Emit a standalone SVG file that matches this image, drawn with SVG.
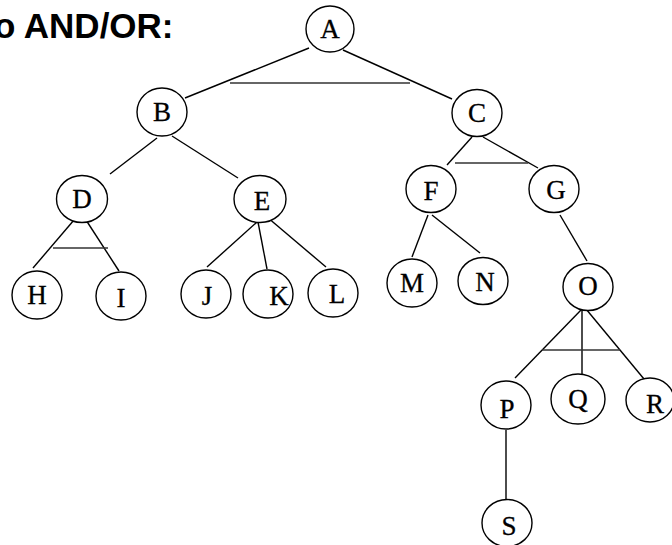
<svg xmlns="http://www.w3.org/2000/svg" width="672" height="545" viewBox="0 0 672 545">
<style>
.n ellipse{fill:#fff;stroke:#000;stroke-width:1.4}
.n text{font-family:"Liberation Serif","Times New Roman",serif;font-size:27px;text-anchor:middle;fill:#000;stroke:#000;stroke-width:0.3}
.c line{stroke:#000;stroke-width:1.4}
.c line.and{stroke:#333;stroke-width:1.5}
.title{font-family:"Liberation Sans",Arial,sans-serif;font-weight:bold;font-size:35px;fill:#000}
</style>
<rect width="672" height="545" fill="#fff"/>
<text class="title" x="-6" y="38">o AND/OR:</text>
<g class="c" id="connectors">
<line x1="309" y1="48" x2="185" y2="98"/>
<line x1="343" y1="50" x2="452" y2="99"/>
<line class="and" x1="230" y1="83" x2="410" y2="83"/>
<line x1="157" y1="138" x2="110" y2="174"/>
<line x1="172" y1="136" x2="238" y2="178"/>
<line x1="74" y1="220" x2="33" y2="268"/>
<line x1="86" y1="220" x2="119" y2="271"/>
<line class="and" x1="53" y1="248" x2="108" y2="248"/>
<line x1="257" y1="222" x2="207" y2="267"/>
<line x1="258" y1="222" x2="267" y2="269"/>
<line x1="267" y1="217" x2="326" y2="267"/>
<line x1="472" y1="137" x2="447" y2="165"/>
<line x1="483" y1="137" x2="538" y2="168"/>
<line class="and" x1="455" y1="163" x2="528" y2="163"/>
<line x1="428" y1="215" x2="412" y2="257"/>
<line x1="432" y1="215" x2="480" y2="253"/>
<line x1="560" y1="215" x2="587" y2="261"/>
<line x1="581" y1="310" x2="515" y2="378"/>
<line x1="582" y1="310" x2="582" y2="374"/>
<line x1="586" y1="309" x2="644" y2="379"/>
<line class="and" x1="542" y1="350" x2="620" y2="350"/>
<line x1="506" y1="430" x2="506" y2="499"/>
</g>
<g class="n" id="A"><ellipse cx="330" cy="29" rx="24" ry="23"/><text x="330" y="38">A</text></g>
<g class="n" id="B"><ellipse cx="162" cy="112" rx="25" ry="24"/><text x="162" y="121">B</text></g>
<g class="n" id="C"><ellipse cx="477" cy="113" rx="25" ry="23.5"/><text x="477" y="122">C</text></g>
<g class="n" id="D"><ellipse cx="82" cy="199" rx="25.5" ry="23.5"/><text x="82" y="208">D</text></g>
<g class="n" id="E"><ellipse cx="260" cy="199" rx="26" ry="23.5"/><text x="262" y="210">E</text></g>
<g class="n" id="F"><ellipse cx="431" cy="189" rx="25" ry="23.5"/><text x="431" y="200">F</text></g>
<g class="n" id="G"><ellipse cx="554" cy="189" rx="25" ry="23.5"/><text x="556" y="199">G</text></g>
<g class="n" id="H"><ellipse cx="37" cy="295" rx="25" ry="24"/><text x="37" y="304">H</text></g>
<g class="n" id="I"><ellipse cx="121" cy="296" rx="25" ry="24"/><text x="121" y="307">I</text></g>
<g class="n" id="J"><ellipse cx="206" cy="294" rx="25" ry="24"/><text x="207" y="305">J</text></g>
<g class="n" id="K"><ellipse cx="268" cy="294" rx="25" ry="24"/><text x="279" y="305">K</text></g>
<g class="n" id="L"><ellipse cx="333" cy="293" rx="25" ry="24"/><text x="337" y="303">L</text></g>
<g class="n" id="M"><ellipse cx="412" cy="283" rx="25" ry="24"/><text x="412" y="292">M</text></g>
<g class="n" id="N"><ellipse cx="483" cy="281" rx="25" ry="23.5"/><text x="485" y="291">N</text></g>
<g class="n" id="O"><ellipse cx="588" cy="287" rx="25" ry="23.5"/><text x="588" y="295">O</text></g>
<g class="n" id="P"><ellipse cx="506" cy="405" rx="25" ry="24"/><text x="507" y="418">P</text></g>
<g class="n" id="Q"><ellipse cx="578" cy="399" rx="27" ry="25"/><text x="578" y="408">Q</text></g>
<g class="n" id="R"><ellipse cx="650" cy="400" rx="24" ry="22"/><text x="655" y="413">R</text></g>
<g class="n" id="S"><ellipse cx="507" cy="523" rx="25" ry="23.5"/><text x="509" y="535">S</text></g>
</svg>
